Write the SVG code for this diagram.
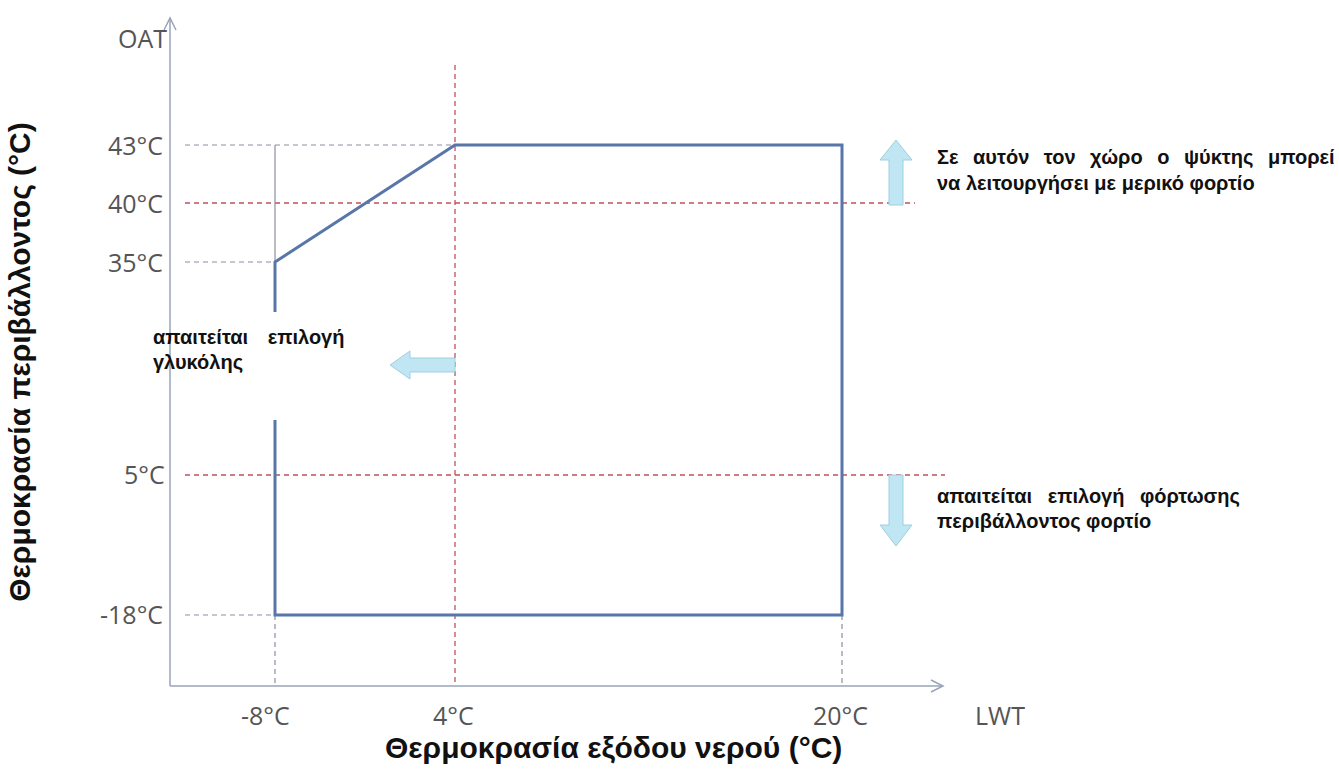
<svg xmlns="http://www.w3.org/2000/svg" width="1339" height="771" viewBox="0 0 1339 771">
<style>
.tick{font-family:"Open Sans","Liberation Sans",sans-serif;font-size:25px;fill:#555}
.lbl{font-family:"Liberation Sans",Arial,sans-serif;font-size:20px;font-weight:bold;fill:#111}
.ax{font-family:"Liberation Sans",Arial,sans-serif;font-size:30px;font-weight:bold;fill:#111}
.red{stroke:#c0505a;stroke-width:1.3;stroke-dasharray:5 4;fill:none}
.gry{stroke:#8a8fa0;stroke-width:1.2;stroke-dasharray:5 4;fill:none}
.blue{stroke:#5876a8;stroke-width:3;fill:none}
.arr{fill:#bfe6f2;stroke:#9fcfe0;stroke-width:1}
</style>
<rect width="1339" height="771" fill="#fff"/>
<g id="connectors">
<line x1="170" y1="686" x2="170" y2="18" stroke="#9aa3b8" stroke-width="1.5"/>
<path d="M164,30 L170,18 L176,30" stroke="#9aa3b8" stroke-width="1.5" fill="none"/>
<line x1="170" y1="686" x2="943" y2="686" stroke="#9aa3b8" stroke-width="1.5"/>
<path d="M931,680 L943,686 L931,692" stroke="#9aa3b8" stroke-width="1.5" fill="none"/>
<line class="red" x1="185" y1="203" x2="915" y2="203"/>
<line class="red" x1="185" y1="475" x2="945" y2="475"/>
<line class="red" x1="455" y1="65" x2="455" y2="685"/>
<line class="gry" x1="185" y1="145" x2="455" y2="145"/>
<line class="gry" x1="185" y1="262" x2="275" y2="262"/>
<line class="gry" x1="185" y1="615" x2="275" y2="615"/>
<line class="gry" x1="275" y1="615" x2="275" y2="685"/>
<line class="gry" x1="842" y1="615" x2="842" y2="685"/>
<line x1="275" y1="145" x2="275" y2="262" stroke="#8a8fa0" stroke-width="1.2"/>
<path class="blue" d="M275,312 L275,262 L455,145 L842,145 L842,615 L275,615 L275,420"/>
</g>
<g id="arrows">
<path class="arr" d="M889,205 L889,160 L880,160 L896,140 L912,160 L903,160 L903,205 Z"/>
<path class="arr" d="M889,475 L889,525 L880,525 L896,546 L912,525 L903,525 L903,475 Z"/>
<path class="arr" d="M455,358 L410,358 L410,351 L390,365 L410,379 L410,372 L455,372 Z"/>
</g>
<g id="ticks">
<text class="tick" x="118" y="48">OAT</text>
<text class="tick" x="108" y="155">43°C</text>
<text class="tick" x="108" y="213">40°C</text>
<text class="tick" x="108" y="272">35°C</text>
<text class="tick" x="124" y="484">5°C</text>
<text class="tick" x="100" y="624">-18°C</text>
<text class="tick" x="241" y="725">-8°C</text>
<text class="tick" x="433" y="725">4°C</text>
<text class="tick" x="813" y="725">20°C</text>
<text class="tick" x="975" y="725">LWT</text>
</g>
<g id="labels">
<text class="lbl" x="153" y="344" font-size="21" word-spacing="14">απαιτείται επιλογή</text>
<text class="lbl" x="153" y="369" font-size="21">γλυκόλης</text>
<text class="lbl" x="937" y="164" word-spacing="9">Σε αυτόν τον χώρο ο ψύκτης μπορεί</text>
<text class="lbl" x="937" y="190">να λειτουργήσει με μερικό φορτίο</text>
<text class="lbl" x="937" y="503" word-spacing="10">απαιτείται επιλογή φόρτωσης</text>
<text class="lbl" x="937" y="528">περιβάλλοντος φορτίο</text>
<text class="ax" x="385" y="758">Θερμοκρασία εξόδου νερού (°C)</text>
<text class="ax" transform="translate(30,362) rotate(-90)" text-anchor="middle">Θερμοκρασία περιβάλλοντος (°C)</text>
</g>
</svg>
